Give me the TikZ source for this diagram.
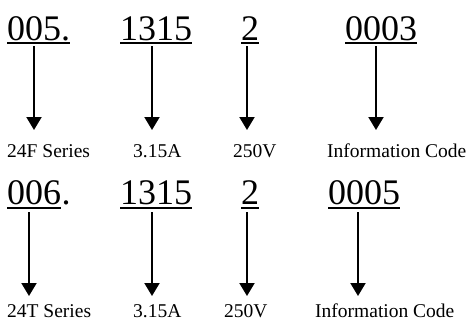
\documentclass[tikz,border=0pt]{standalone}
\usepackage{fontspec}
\setmainfont{Liberation Serif}
\usetikzlibrary{arrows.meta,calc}
\begin{document}
\begin{tikzpicture}[x=1pt,y=-1pt,
  big/.style={anchor=base west,inner sep=0pt,font=\fontsize{36}{40}\selectfont},
  lab/.style={anchor=base west,inner sep=0pt,font=\fontsize{19.5}{22}\selectfont},
  uline/.style={line width=2pt},
  arr/.style={line width=2pt,-{Triangle[width=15pt,length=13pt]}}]
\useasboundingbox (0,0) rectangle (469,327);
% top row
\node[big] (a1) at (7,40) {005.};
\node[big] (a2) at (120,40) {1315};
\node[big] (a3) at (241,40) {2};
\node[big] (a4) at (345,40) {0003};
\foreach \n in {a1,a2,a3,a4}
  \draw[uline] ($(\n.base west)+(0,3)$) -- ($(\n.base east)+(0,3)$);
\node[lab] (l1) at (7,157) {24F Series};
\node[lab] (l2) at (133,157) {3.15A};
\node[lab] (l3) at (233,157) {250V};
\node[lab] (l4) at (327,157) {Information Code};
\coordinate (s1) at (34,46);  \coordinate (e1) at (34,130);
\coordinate (s2) at (152,46); \coordinate (e2) at (152,130);
\coordinate (s3) at (247,46); \coordinate (e3) at (247,130);
\coordinate (s4) at (376,46); \coordinate (e4) at (376,130);
\foreach \i in {1,2,3,4} \draw[arr] (s\i) -- (e\i);
% bottom row
\node[big] (b1) at (7,204) {006};
\node[big,anchor=base west] (b1d) at (b1.base east) {.};
\node[big] (b2) at (120,204) {1315};
\node[big] (b3) at (241,204) {2};
\node[big] (b4) at (328,204) {0005};
\foreach \n in {b1,b2,b3,b4}
  \draw[uline] ($(\n.base west)+(0,4)$) -- ($(\n.base east)+(0,4)$);
\node[lab] (m1) at (7,317) {24T Series};
\node[lab] (m2) at (133,317) {3.15A};
\node[lab] (m3) at (224,317) {250V};
\node[lab] (m4) at (315,317) {Information Code};
\coordinate (t1) at (29,212);  \coordinate (f1) at (29,296);
\coordinate (t2) at (152,212); \coordinate (f2) at (152,296);
\coordinate (t3) at (247,212); \coordinate (f3) at (247,296);
\coordinate (t4) at (358,212); \coordinate (f4) at (358,296);
\foreach \i in {1,2,3,4} \draw[arr] (t\i) -- (f\i);
\end{tikzpicture}
\end{document}
